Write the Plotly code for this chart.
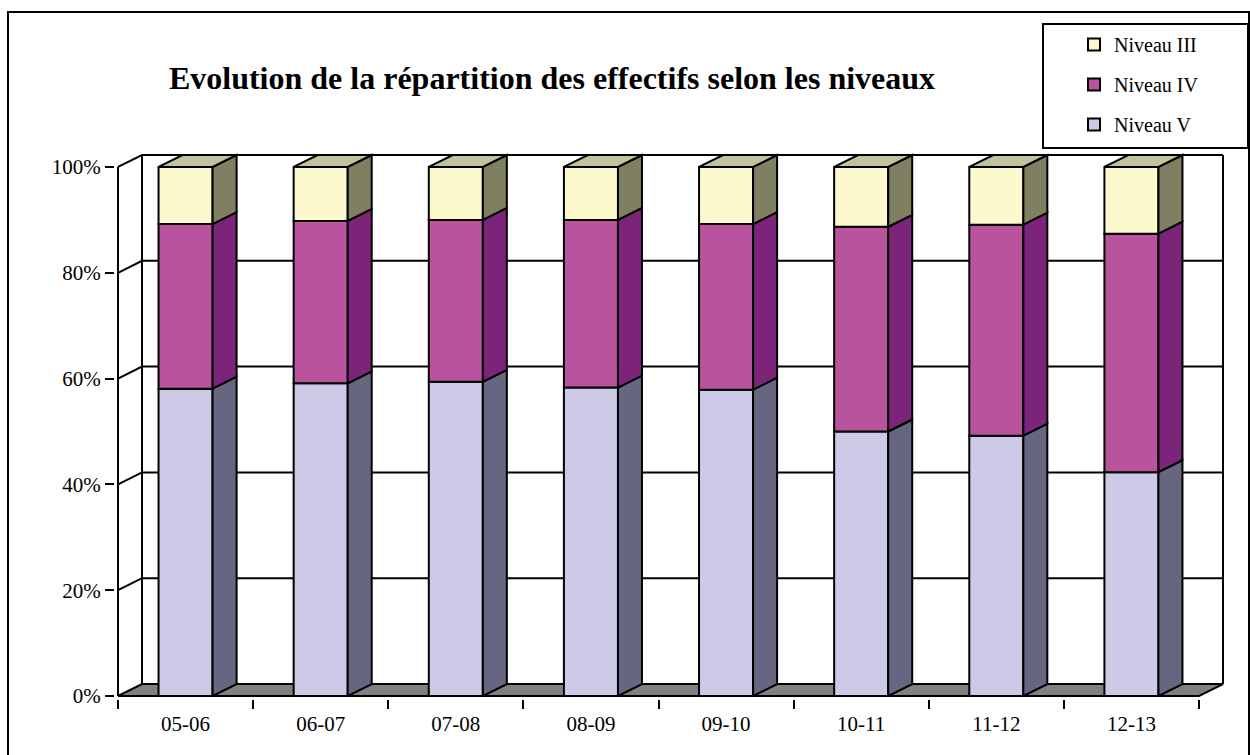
import plotly.graph_objects as go

# ---- data (percent of students per level) ----
categories = ["05-06", "06-07", "07-08", "08-09", "09-10", "10-11", "11-12", "12-13"]
niveau_v = [58.1, 59.1, 59.4, 58.3, 57.9, 50.0, 49.2, 42.3]
niveau_iv = [31.1, 30.7, 30.6, 31.7, 31.3, 38.7, 39.9, 45.1]
niveau_iii = [10.8, 10.2, 10.0, 10.0, 10.8, 11.3, 10.9, 12.6]
y_ticks = [0, 20, 40, 60, 80, 100]

# ---- style / geometry ----
W, H = 1250, 755
FONT = "Liberation Serif"
PXX = 1081 / 8.0      # px per category unit
PXY = 5.3             # px per percent
DX = 24 / PXX         # 3D depth offset (x units)
DY = 12 / PXY         # 3D depth offset (y units)
BW = 0.4              # bar width
LW = 2                # outline width
PAD = 3               # px padding around drawing
L, T = 118 - PAD, 155 - PAD
PW = 1105 + 2 * PAD
PH = 541 + 2 * PAD
R = W - L - PW
B = H - T - PH

series = [
    ("Niveau V", niveau_v, "#CCCAE6", "#666680", None, 3),
    ("Niveau IV", niveau_iv, "#B9539D", "#7C2479", None, 2),
    ("Niveau III", niveau_iii, "#FBF9CD", "#7F7F61", "#C2C29D", 1),
]

x = list(range(len(categories)))
fig = go.Figure()

bases = [0.0] * len(x)
side_traces = []
for gi, (name, vals, front, side, top, rank) in enumerate(series):
    fig.add_trace(go.Bar(
        x=x, y=vals, base=bases[:], width=BW, name=name,
        marker=dict(color=front, line=dict(color="black", width=LW)),
        legendgroup=name, legendrank=rank, hoverinfo="skip",
    ))
    sx, sy = [], []
    tx, ty = [], []
    for i, v in enumerate(vals):
        b0 = bases[i]
        b1 = b0 + v
        xr = i + BW / 2
        sx += [xr, xr + DX, xr + DX, xr, xr, None]
        sy += [b0, b0 + DY, b1 + DY, b1, b0, None]
        if top:
            xl = i - BW / 2
            tx += [xl, xl + DX, xr + DX, xr, xl, None]
            ty += [b1, b1 + DY, b1 + DY, b1, b1, None]
        bases[i] = b1
    side_traces.append(go.Scatter(
        x=sx, y=sy, mode="lines", fill="toself", fillcolor=side,
        line=dict(color="black", width=LW), showlegend=False,
        hoverinfo="skip", legendgroup=name,
    ))
    if top:
        side_traces.append(go.Scatter(
            x=tx, y=ty, mode="lines", fill="toself", fillcolor=top,
            line=dict(color="black", width=LW), showlegend=False,
            hoverinfo="skip", legendgroup=name,
        ))
for tr in side_traces:
    fig.add_trace(tr)

x0, x1 = -0.5, len(x) - 0.5
ymax = y_ticks[-1]
shapes = []
ln = dict(color="black", width=LW)
# floor
shapes.append(dict(type="path", xref="x", yref="y", layer="below",
                   path=f"M {x0},0 L {x1},0 L {x1+DX},{DY} L {x0+DX},{DY} Z",
                   fillcolor="#808080", line=ln))
# gridlines on left wall + back wall
for t in y_ticks[1:]:
    shapes.append(dict(type="path", xref="x", yref="y", layer="below",
                       path=f"M {x0},{t} L {x0+DX},{t+DY} L {x1+DX},{t+DY}",
                       line=ln))
# vertical edges
for (xa, ya, xb, yb) in [(x0, 0, x0, ymax), (x0 + DX, DY, x0 + DX, ymax + DY),
                         (x1 + DX, DY, x1 + DX, ymax + DY)]:
    shapes.append(dict(type="line", xref="x", yref="y", layer="below",
                       x0=xa, y0=ya, x1=xb, y1=yb, line=ln))


def pxp(px):
    return (px - L) / PW


def pyp(py):
    return (T + PH - py) / PH


# outer frame
shapes.append(dict(type="rect", xref="paper", yref="paper",
                   x0=pxp(8), x1=pxp(1249), y0=pyp(760), y1=pyp(12),
                   line=dict(color="black", width=LW)))
# legend box
shapes.append(dict(type="rect", xref="paper", yref="paper",
                   x0=pxp(1043), x1=pxp(1248), y0=pyp(148), y1=pyp(24),
                   line=dict(color="black", width=LW)))

fig.update_layout(
    width=W, height=H, autosize=False,
    margin=dict(l=L, r=R, t=T, b=B, pad=0),
    paper_bgcolor="white", plot_bgcolor="rgba(0,0,0,0)",
    barmode="overlay",
    shapes=shapes,
    font=dict(family=FONT, size=21, color="black"),
    title=dict(text="<b>Evolution de la répartition des effectifs selon les niveaux</b>",
               x=552 / W, xref="container", xanchor="center",
               y=1 - 78 / H, yref="container", yanchor="middle",
               font=dict(family=FONT, size=32, color="black")),
    legend=dict(x=pxp(1074), y=pyp(25), xanchor="left", yanchor="top",
                traceorder="grouped", tracegroupgap=11,
                bgcolor="rgba(0,0,0,0)", borderwidth=0,
                font=dict(family=FONT, size=20, color="black")),
    xaxis=dict(range=[x0 - PAD / PXX, x1 + DX + PAD / PXX],
               tickmode="array", tickvals=x, ticktext=categories,
               ticks="", showgrid=False, zeroline=False, showline=False,
               ticklabelstandoff=10,
               minor=dict(tickmode="array", tickvals=[i - 0.5 for i in range(len(x) + 1)],
                          ticks="outside", ticklen=9, tickwidth=LW, tickcolor="black",
                          showgrid=False),
               fixedrange=True),
    yaxis=dict(range=[-PAD / PXY, ymax + DY + PAD / PXY],
               tickmode="array", tickvals=y_ticks,
               ticktext=[f"{t}%" for t in y_ticks],
               ticks="outside", ticklen=9, tickwidth=LW, tickcolor="black",
               showgrid=False, zeroline=False, showline=False,
               fixedrange=True),
)

fig.write_html("out.html", config={"displayModeBar": False},
               post_script="document.body.style.margin='0';document.body.style.overflow='hidden';")
